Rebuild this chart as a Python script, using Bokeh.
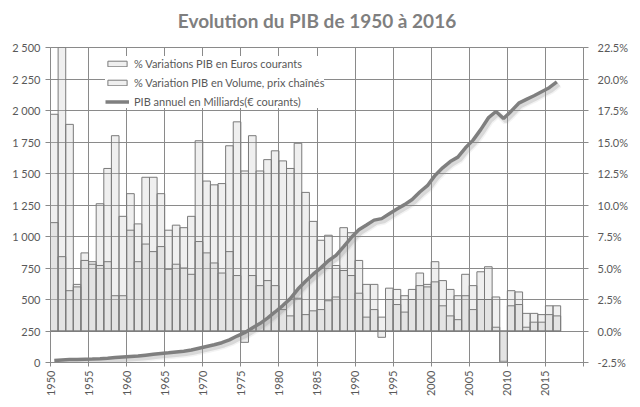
import math
from bokeh.plotting import figure
from bokeh.models import Range1d, LinearAxis, FixedTicker, ColumnDataSource, Legend, LegendItem, Title
from bokeh.embed import file_html
from bokeh.resources import INLINE

# ---------------- data ----------------
years = list(range(1950, 2017))

# % Variations PIB en Euros courants
var_euros = [
    17.2, 25.0, 16.4, 3.7, 6.2, 5.5, 10.1, 12.9, 15.5, 9.1,      # 1950-1959
    10.9, 8.5, 12.2, 12.2, 10.9, 8.0, 8.4, 8.2, 9.1, 15.1,       # 1960-1969
    11.9, 11.6, 11.7, 14.7, 16.6, 12.7, 15.5, 12.7, 13.6, 14.3,  # 1970-1979
    13.5, 12.9, 14.9, 11.0, 8.7, 7.2, 7.6, 5.2, 8.2, 7.8,        # 1980-1989
    5.6, 3.7, 3.7, 1.1, 3.4, 3.3, 2.8, 3.3, 4.6, 3.7,            # 1990-1999
    5.5, 4.0, 3.3, 2.8, 4.5, 3.6, 4.7, 5.1, 2.7, -2.4,           # 2000-2009
    3.2, 3.1, 1.4, 1.4, 1.3, 2.0, 2.0,                           # 2010-2016
]

# % Variation PIB en Volume, prix chaînés
var_volume = [
    8.6, 5.9, 3.2, 3.5, 5.6, 5.3, 5.2, 5.5, 2.8, 2.8,            # 1950-1959
    8.0, 5.5, 6.9, 6.3, 6.7, 4.9, 5.3, 5.0, 4.5, 7.1,            # 1960-1969
    6.2, 5.4, 4.6, 6.3, 4.4, -0.9, 4.4, 3.6, 4.0, 3.6,           # 1970-1979
    1.7, 1.2, 2.6, 1.3, 1.6, 1.7, 2.4, 2.7, 4.8, 4.4,            # 1980-1989
    3.0, 1.1, 1.7, -0.5, 2.5, 2.1, 1.5, 2.5, 3.6, 3.5,           # 1990-1999
    3.9, 2.0, 1.2, 0.9, 2.8, 1.7, 2.5, 2.5, 0.3, -2.9,           # 2000-2009
    2.0, 2.1, 0.3, 0.7, 0.7, 1.3, 1.2,                           # 2010-2016
]

# PIB annuel en Milliards (€ courants)
pib_mds = [
    16, 20, 23.5, 24.5, 26, 27.5, 30, 34, 39, 43,                # 1950-1959
    47, 51, 58, 65, 71, 77, 84, 90, 99, 113,                     # 1960-1969
    127, 141, 157, 180, 210, 237, 274, 309, 352, 401,            # 1970-1979
    452, 507, 583, 645, 701, 751, 808, 850, 920, 992,            # 1980-1989
    1053, 1091, 1130, 1142, 1180, 1218, 1253, 1294, 1353, 1403,  # 1990-1999
    1485, 1545, 1595, 1630, 1704, 1765, 1848, 1941, 1992, 1936,  # 2000-2009
    1995, 2058, 2088, 2117, 2149, 2181, 2228,                    # 2010-2016
]

x_ticks = [1950, 1955, 1960, 1965, 1970, 1975, 1980, 1985, 1990, 1995,
           2000, 2005, 2010, 2015, 2020]
x_tick_labels = ["1950", "1955", "1960", "1965", "1970", "1975", "1980", "1985",
                 "1990", "1995", "2000", "2005", "2010", "2015", ""]
left_ticks = [0, 250, 500, 750, 1000, 1250, 1500, 1750, 2000, 2250, 2500]
left_tick_labels = ["0", "250", "500", "750", "1 000", "1 250", "1 500", "1 750",
                    "2 000", "2 250", "2 500"]
right_ticks = [-2.5, 0.0, 2.5, 5.0, 7.5, 10.0, 12.5, 15.0, 17.5, 20.0, 22.5]
right_tick_labels = ["-2.5%", "0.0%", "2.5%", "5.0%", "7.5%", "10.0%", "12.5%",
                     "15.0%", "17.5%", "20.0%", "22.5%"]

title_text = "Evolution du PIB de 1950 à 2016"
series_names = ["% Variations PIB en Euros courants",
                "% Variation PIB en Volume, prix chaînés",
                "PIB annuel en Milliards(€ courants)"]

# ---------------- styles ----------------
FONT = "Lato"
TXT = "#595959"
GRID = "#8a8a8a"
LINE = "#7f7f7f"

src = ColumnDataSource(dict(
    xc=[y + 0.5 for y in years],
    euros=var_euros,
    volume=var_volume,
    pib=pib_mds,
    xs=[y + 0.5 + 0.3 for y in years],
    pib_s=[v - 22 for v in pib_mds],
))

p = figure(width=632, height=399, output_backend="svg", toolbar_location=None,
           x_range=Range1d(1950, 2020), y_range=Range1d(0, 2500),
           min_border_left=50, min_border_right=49, min_border_top=47,
           min_border_bottom=37)
p.extra_y_ranges = {"pct": Range1d(-2.5, 22.5)}

p.title.text = title_text
p.title.align = "center"
p.title.text_font = FONT
p.title.text_font_size = "19px"
p.title.text_font_style = "bold"
p.title.text_color = "#7f7f7f"
p.title.standoff = 11
# small spacer between title and frame
p.add_layout(Title(text=" ", text_font_size="2px", standoff=6), "above")

p.outline_line_color = GRID
p.background_fill_color = "white"
p.border_fill_color = "white"

# grid
p.xgrid.ticker = FixedTicker(ticks=x_ticks)
p.ygrid.ticker = FixedTicker(ticks=left_ticks)
for g in (p.xgrid, p.ygrid):
    g.grid_line_color = GRID
    g.grid_line_width = 1

# bars (semi-transparent, overlapping)
r_eur = p.vbar(x="xc", top="euros", bottom=0, width=1, source=src, y_range_name="pct",
               fill_color="#c4c4c4", fill_alpha=0.28, line_color="#7a7a7a", line_width=1)
r_vol = p.vbar(x="xc", top="volume", bottom=0, width=1, source=src, y_range_name="pct",
               fill_color="#c4c4c4", fill_alpha=0.28, line_color="#7a7a7a", line_width=1)

# line shadow + line
p.line(x="xs", y="pib_s", source=src, line_color="#9a9a9a", line_width=7, line_alpha=0.12)
p.line(x="xs", y="pib_s", source=src, line_color="#8a8a8a", line_width=4, line_alpha=0.25)
r_pib = p.line(x="xc", y="pib", source=src, line_color=LINE, line_width=3.5)

# axes
xa = p.xaxis[0]
xa.ticker = FixedTicker(ticks=x_ticks)
xa.major_label_overrides = dict(zip(x_ticks, x_tick_labels))
xa.major_label_orientation = math.pi / 2

ya = p.yaxis[0]
ya.ticker = FixedTicker(ticks=left_ticks)
ya.major_label_overrides = dict(zip(left_ticks, left_tick_labels))

ra = LinearAxis(y_range_name="pct", ticker=FixedTicker(ticks=right_ticks),
                major_label_overrides=dict(zip(right_ticks, right_tick_labels)))
p.add_layout(ra, "right")

for ax in (xa, ya, ra):
    ax.axis_line_color = GRID
    ax.major_tick_line_color = GRID
    ax.major_tick_in = 0
    ax.major_tick_out = 5
    ax.minor_tick_line_color = None
    ax.major_label_text_font = FONT
    ax.major_label_text_font_size = "11px"
    ax.major_label_text_color = TXT
xa.major_tick_out = 4
xa.major_label_standoff = 4
ra.major_label_standoff = 9

legend = Legend(items=[LegendItem(label=series_names[0], renderers=[r_eur]),
                       LegendItem(label=series_names[1], renderers=[r_vol]),
                       LegendItem(label=series_names[2], renderers=[r_pib])],
                location=(55, 254))
legend.background_fill_color = "white"
legend.background_fill_alpha = 1
legend.border_line_color = None
legend.label_text_font = FONT
legend.label_text_font_size = "11px"
legend.label_text_color = TXT
legend.glyph_width = 24
legend.glyph_height = 7
legend.label_height = 14
legend.spacing = 5
legend.padding = 3
legend.margin = 0
legend.label_standoff = 5
p.add_layout(legend)

open("out.html", "w").write(file_html(p, INLINE))
